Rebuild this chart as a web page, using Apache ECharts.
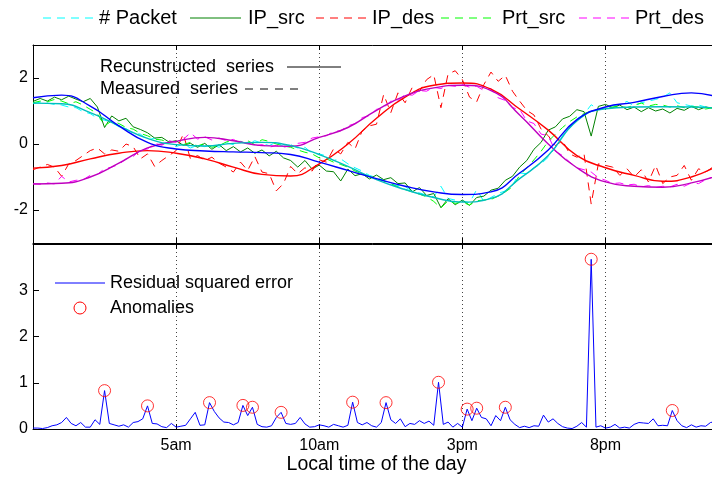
<!DOCTYPE html>
<html>
<head>
<meta charset="utf-8">
<script src="https://cdn.jsdelivr.net/npm/echarts@6/dist/echarts.min.js"></script>
<style>
  html, body { margin: 0; padding: 0; background: #fff; }
  #chart { width: 712px; height: 477px; }
</style>
</head>
<body>
<div id="chart"></div>
<script>
// ---- measured traffic features, one sample every 15 minutes (00:00 .. 23:45) ----
const packetCount = [
  1.22, 1.27, 1.24, 1.20,  1.18, 1.12, 1.10, 0.98,
  0.92, 0.78, 0.72, 0.66,  0.52, 0.46, 0.32, 0.30,
  0.12, 0.18, 0.02, 0.05,  -0.08, 0.00, -0.12, -0.04,
  -0.08, -0.02, -0.10, 0.04,  -0.02, 0.08, 0.00, 0.10,
  0.02, -0.05, 0.06, -0.08,  -0.02, -0.12, -0.10, -0.28,
  -0.30, -0.36, -0.50, -0.45,  -0.60, -0.72, -0.82, -0.95,
  -1.02, -1.10, -1.22, -1.26,  -1.30, -1.42, -1.48, -1.55,
  -1.60, -1.28, -1.65, -1.70,  -1.72, -1.78, -1.38, -1.74,
  -1.62, -1.50, -1.42, -1.25,  -0.88, -0.90, -0.72, -0.60,
  -0.40, -0.10, 0.25, 0.48,  0.76, 0.90, 1.19, 1.05,
  1.10, 1.15, 1.20, 1.29,  1.15, 1.25, 1.30, 1.35,
  1.42, 1.55, 1.25, 1.20,  1.15, 1.18, 1.12, 1.10
];
const ipSrc = [
  1.29, 1.38, 1.30, 1.42,  1.34, 1.45, 1.36, 1.28,
  1.38, 1.12, 0.50, 0.85,  0.70, 0.78, 0.52, 0.44,
  0.34, 0.18, 0.20, 0.06,  0.10, -0.04, 0.02, -0.10,
  0.02, -0.16, -0.02, -0.20,  -0.08, -0.24, -0.12, -0.28,
  -0.18, -0.36, -0.22, -0.42,  -0.50, -0.70, -0.50, -0.76,
  -0.64, -0.82, -0.84, -1.12,  -0.76, -0.96, -0.90, -1.06,
  -0.94, -1.08, -1.02, -1.20,  -1.18, -1.45, -1.32, -1.56,
  -1.50, -1.93, -1.66, -1.84,  -1.70, -1.86, -1.62, -1.58,
  -1.40, -1.34, -1.10, -0.98,  -0.70, -0.50, -0.16, 0.05,
  0.42, 0.52, 0.76, 0.84,  1.04, 0.98, 0.24, 1.14,
  1.20, 1.10, 1.18, 1.04,  1.12, 0.98, 1.10, 1.00,
  1.06, 0.94, 1.08, 1.02,  1.14, 1.04, 1.12, 1.09
];
const ipDes = [
  -0.78, -0.70, -0.62, -0.70,  -0.98, -0.60, -0.50, -0.35,
  -0.20, -0.12, -0.30, -0.18,  -0.22, 0.00, -0.08, -0.45,
  -0.30, -0.68, -0.50, -0.35,  -0.20, 0.30, -0.45, -0.35,
  -0.50, -0.40, -0.58, -0.70,  -0.85, -0.55, -0.80, -0.38,
  -0.85, -0.90, -1.42, -1.20,  -0.68, -0.90, -0.72, -0.82,
  -0.48, -0.55, -0.15, -0.30,  0.05, -0.15, 0.40, 0.55,
  0.60, 1.50, 0.95, 1.55,  1.25, 1.72, 1.60, 1.95,
  2.10, 1.10, 2.12, 2.22,  1.95, 1.42, 1.28, 1.80,
  2.18, 1.90, 2.08, 1.60,  1.30, 1.02, 0.88, 0.45,
  0.25, -0.05, 0.10, -0.30,  -0.40, -0.30, -1.82, -0.60,
  -0.65, -0.70, -0.95, -0.75,  -1.00, -0.78, -1.15, -0.65,
  -1.20, -1.00, -0.95, -0.65,  -1.10, -0.75, -0.85, -0.70
];
const prtSrc = [
  1.25, 1.30, 1.28, 1.35,  1.30, 1.22, 1.28, 1.18,
  1.05, 0.92, 0.55, 0.70,  0.62, 0.50, 0.45, 0.32,
  0.25, 0.15, 0.12, 0.05,  0.08, -0.02, 0.05, -0.06,
  0.02, -0.10, -0.05, 0.06,  0.12, 0.05, 0.10, -0.02,
  0.13, 0.08, 0.00, -0.06,  -0.10, -0.18, -0.25, -0.30,
  -0.42, -0.45, -0.55, -0.62,  -0.70, -0.82, -0.90, -0.98,
  -1.05, -1.12, -1.20, -1.30,  -1.38, -1.45, -1.52, -1.60,
  -1.74, -1.94, -1.72, -1.80,  -1.76, -1.85, -1.72, -1.70,
  -1.68, -1.58, -1.45, -1.30,  -0.95, -0.72, -0.48, -0.22,
  0.08, 0.30, 0.50, 0.68,  0.82, 0.92, 1.00, 1.05,
  1.08, 1.12, 1.15, 1.10,  1.18, 1.24, 1.15, 1.20,
  1.18, 1.12, 1.16, 1.10,  1.14, 1.12, 1.06, 1.10
];
const prtDes = [
  -1.20, -1.22, -1.18, -1.21,  -0.98, -1.15, -1.10, -1.08,
  -0.95, -0.92, -0.75, -0.70,  -0.62, -0.45, -0.38, -0.18,
  -0.15, 0.02, -0.04, 0.10,  0.05, 0.14, 0.34, 0.15,
  0.22, 0.12, 0.18, 0.10,  0.14, 0.02, 0.05, -0.06,
  -0.02, -0.10, -0.04, -0.10,  -0.05, 0.02, 0.05, 0.18,
  0.22, 0.25, 0.38, 0.40,  0.55, 0.62, 0.80, 0.86,
  1.05, 1.10, 1.30, 1.32,  1.50, 1.48, 1.62, 1.60,
  1.72, 1.68, 1.78, 1.75,  1.80, 1.72, 1.75, 1.62,
  1.68, 1.40, 1.32, 1.10,  1.05, 0.70, 0.62, 0.30,
  0.25, -0.22, -0.35, -0.55,  -0.72, -0.78, -0.85, -1.02,
  -1.10, -1.20, -1.18, -1.24,  -1.22, -1.30, -1.26, -1.32,
  -1.28, -1.30, -1.22, -1.28,  -1.18, -1.20, -1.08, -1.00
];

// ---- reconstructed (low-rank) series, hourly knots 00:00 .. 24:00 ----
const reconBlue = [1.40, 1.48, 1.15, 0.55, 0.05, -0.15, -0.21, -0.24, -0.26, -0.32, -0.55, -0.80,
  -1.05, -1.28, -1.45, -1.53, -1.45, -0.88, -0.18, 0.74, 1.12, 1.26, 1.44, 1.55, 1.40];
const reconTeal = [1.24, 1.22, 0.95, 0.55, 0.17, -0.02, -0.06, 0.02, 0.05, -0.05, -0.32, -0.68,
  -1.08, -1.38, -1.62, -1.76, -1.65, -1.05, -0.35, 0.70, 1.07, 1.12, 1.13, 1.12, 1.08];
const reconRed = [-0.73, -0.65, -0.45, -0.28, -0.20, -0.28, -0.45, -0.70, -0.92, -0.97, -0.60, 0.00,
  0.78, 1.42, 1.78, 1.85, 1.66, 1.06, 0.42, -0.35, -0.72, -0.95, -1.13, -1.00, -0.62];
const reconPurple = [-1.21, -1.19, -1.00, -0.58, -0.12, 0.08, 0.20, 0.10, -0.05, -0.07, 0.20, 0.50,
  1.02, 1.46, 1.70, 1.78, 1.62, 0.88, 0.00, -0.72, -1.15, -1.28, -1.31, -1.18, -0.93];

// ---- residual squared error, one sample every 10 minutes ----
const residual = [
  0.02, 0.02, 0.01, 0.03, 0.07, 0.09,
  0.14, 0.25, 0.12, 0.07, 0.14, 0.04,
  0.04, 0.20, 0.10, 0.83, 0.12, 0.09,
  0.06, 0.09, 0.04, 0.14, 0.16, 0.22,
  0.50, 0.12, 0.11, 0.05, 0.03, 0.12,
  0.04, 0.06, 0.08, 0.22, 0.36, 0.08,
  0.09, 0.57, 0.38, 0.24, 0.15, 0.14,
  0.09, 0.14, 0.51, 0.29, 0.47, 0.10,
  0.05, 0.04, 0.07, 0.25, 0.36, 0.12,
  0.10, 0.12, 0.25, 0.11, 0.04, 0.05,
  0.09, 0.07, 0.04, 0.10, 0.07, 0.04,
  0.08, 0.58, 0.14, 0.09, 0.14, 0.07,
  0.04, 0.14, 0.57, 0.20, 0.12, 0.22,
  0.05, 0.12, 0.10, 0.18, 0.12, 0.17,
  0.08, 1.01, 0.10, 0.15, 0.04, 0.12,
  0.04, 0.43, 0.18, 0.45, 0.25, 0.22,
  0.07, 0.29, 0.18, 0.47, 0.20, 0.10,
  0.03, 0.06, 0.03, 0.07, 0.06, 0.30,
  0.15, 0.22, 0.12, 0.05, 0.02, 0.01,
  0.06, 0.14, 0.04, 3.67, 0.04, 0.07,
  0.02, 0.04, 0.10, 0.02, 0.04, 0.02,
  0.10, 0.14, 0.13, 0.12, 0.22, 0.07,
  0.08, 0.07, 0.40, 0.18, 0.07, 0.03,
  0.09, 0.04, 0.07, 0.06, 0.14, 0.16
];
// samples flagged as anomalies (indices into residual)
const anomalyIdx = [15, 24, 37, 44, 46, 52, 67, 74, 85, 91, 93, 99, 117, 134];

// ---- axis ticks ----
const hourTicks = [5, 10, 15, 20];
const hourTickLabels = ['5am', '10am', '3pm', '8pm'];
const topYTicks = [-2, 0, 2];
const bottomYTicks = [0, 1, 2, 3];

const FONT = '"Liberation Sans", Arial, Helvetica, sans-serif';

const quarter = (arr) => arr.map((v, i) => [i * 0.25, v]);
const hourly = (arr) => arr.map((v, i) => [i, v]);
const tenMin = (arr) => arr.map((v, i) => [i / 6, v]);

function timeAxis(gridIndex, position, labelled) {
  return {
    type: 'value', gridIndex, position, min: 0, max: 24, interval: 5,
    axisLine: { show: true, onZero: false, lineStyle: { color: '#000', width: 1 } },
    axisTick: { show: true, inside: true, length: 5, lineStyle: { color: '#000' } },
    axisLabel: {
      show: labelled, margin: 9, color: '#000', fontSize: 16, fontFamily: FONT,
      formatter: (v) => { const k = hourTicks.indexOf(v); return k >= 0 ? hourTickLabels[k] : ''; }
    },
    splitLine: { show: position === 'bottom', lineStyle: { color: '#444', width: 1, type: [1, 3] } },
    name: labelled ? 'Local time of the day' : '',
    nameLocation: 'middle', nameGap: 26,
    nameTextStyle: { color: '#000', fontSize: 19.5, fontFamily: FONT }
  };
}

function valueAxis(gridIndex, min, max, ticks) {
  return {
    type: 'value', gridIndex, min, max,
    axisLine: { show: true, onZero: false, lineStyle: { color: '#000', width: 1 } },
    axisTick: { show: true, inside: true, length: 6, customValues: ticks, lineStyle: { color: '#000' } },
    axisLabel: { margin: 5, color: '#000', fontSize: 16, fontFamily: FONT, customValues: ticks },
    splitLine: { show: false }
  };
}

function measured(name, data, color, dashed) {
  return {
    name, type: 'line', xAxisIndex: 0, yAxisIndex: 0, data: quarter(data),
    symbol: 'none', z: 2,
    lineStyle: { color, width: 1, type: dashed ? [8, 6] : 'solid' }
  };
}
function recon(data, color) {
  return {
    type: 'line', xAxisIndex: 0, yAxisIndex: 0, data: hourly(data),
    smooth: true, symbol: 'none', z: 3,
    lineStyle: { color, width: 1.4 }
  };
}

// legend drawing helpers
const hLine = (x1, x2, y, color, dash) => ({
  type: 'line', shape: { x1, y1: y, x2, y2: y },
  style: { stroke: color, lineWidth: 1, lineDash: dash || null }
});
const label = (x, y, text, size) => ({
  type: 'text', x, y,
  style: { text, fill: '#000', fontSize: size, fontFamily: FONT, verticalAlign: 'middle', align: 'left' }
});

const chart = echarts.init(document.getElementById('chart'), null, { renderer: 'canvas' });
chart.setOption({
  animation: false,
  backgroundColor: '#fff',
  grid: [
    { left: 33, right: -8, top: 45, height: 198, outerBoundsMode: 'none', containLabel: false },
    { left: 33, right: -8, top: 244, height: 185, outerBoundsMode: 'none', containLabel: false }
  ],
  xAxis: [
    timeAxis(0, 'bottom', false),
    timeAxis(0, 'top', false),
    timeAxis(1, 'bottom', true),
    timeAxis(1, 'top', false)
  ],
  yAxis: [
    valueAxis(0, -3, 3, topYTicks),
    valueAxis(1, 0, 4, bottomYTicks)
  ],
  series: [
    measured('# Packet', packetCount, '#00ffff', true),
    measured('IP_src', ipSrc, '#008000', false),
    measured('IP_des', ipDes, '#ff0000', true),
    measured('Prt_src', prtSrc, '#00ff00', true),
    measured('Prt_des', prtDes, '#ff00ff', true),
    recon(reconRed, '#ff0000'),
    recon(reconPurple, '#bf00bf'),
    recon(reconTeal, '#00bfbf'),
    recon(reconBlue, '#0000ff'),
    {
      name: 'Residual squared error', type: 'line', xAxisIndex: 2, yAxisIndex: 1,
      data: tenMin(residual), symbol: 'none', lineStyle: { color: '#0000ff', width: 1 }
    },
    {
      name: 'Anomalies', type: 'scatter', xAxisIndex: 2, yAxisIndex: 1,
      data: anomalyIdx.map((i) => [i / 6, residual[i]]),
      symbol: 'circle', symbolSize: 12, z: 5,
      itemStyle: { color: 'rgba(0,0,0,0)', borderColor: '#ff0000', borderWidth: 1 }
    }
  ],
  graphic: [
    // series legend above the plots
    hLine(43, 93, 18, '#00ffff', [8, 6]), label(99, 18, '# Packet', 20),
    hLine(190, 241, 18, '#008000'), label(248, 18, 'IP_src', 20),
    hLine(316, 366, 18, '#ff0000', [8, 6]), label(372, 18, 'IP_des', 20),
    hLine(441, 495, 18, '#00ff00', [8, 6]), label(502, 18, 'Prt_src', 20),
    hLine(579, 630, 18, '#ff00ff', [8, 6]), label(635, 18, 'Prt_des', 20),
    // line-style key in the upper plot
    label(100, 67, 'Recunstructed  series', 18), hLine(287, 341, 67, '#000'),
    label(100, 89, 'Measured  series', 18), hLine(245, 302, 89, '#000', [8, 7]),
    // key in the lower plot
    hLine(55, 105, 283, '#0000ff'), label(110, 283, 'Residual squared error', 18),
    { type: 'circle', shape: { cx: 80, cy: 308, r: 6 }, style: { fill: 'none', stroke: '#ff0000', lineWidth: 1 } },
    label(110, 308, 'Anomalies', 18)
  ]
});
</script>
</body>
</html>
